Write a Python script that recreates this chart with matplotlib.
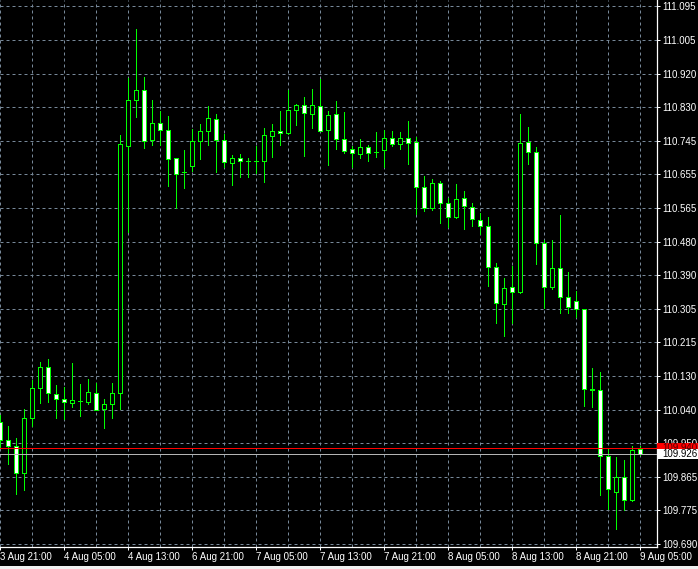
import numpy as np
import matplotlib
matplotlib.use('Agg')
import matplotlib.pyplot as plt
import matplotlib.transforms as mtransforms
from matplotlib.patches import Rectangle

# H1 bars (open, high, low, close)
opens = [110.009, 109.961, 109.945, 109.875, 110.018, 110.097, 110.152, 110.081, 110.068, 110.059,
         110.064, 110.061, 110.084, 110.043, 110.055, 110.084, 110.731, 110.849, 110.876, 110.745,
         110.789, 110.771, 110.698, 110.661, 110.678, 110.742, 110.768, 110.800, 110.745, 110.686,
         110.698, 110.690, 110.690, 110.690, 110.755, 110.768, 110.763, 110.823, 110.836, 110.814,
         110.834, 110.773, 110.813, 110.747, 110.721, 110.710, 110.727, 110.715, 110.720, 110.750,
         110.736, 110.750, 110.740, 110.622, 110.569, 110.632, 110.580, 110.545, 110.593, 110.570,
         110.536, 110.520, 110.413, 110.318, 110.361, 110.348, 110.740, 110.713, 110.476, 110.361,
         110.410, 110.335, 110.324, 110.303, 110.092, 110.091, 109.920, 109.825, 109.864, 109.804,
         109.937]
highs = [110.027, 109.998, 109.967, 110.043, 110.118, 110.165, 110.173, 110.105, 110.101, 110.163,
         110.108, 110.121, 110.111, 110.069, 110.111, 110.759, 110.907, 111.036, 110.910, 110.850,
         110.821, 110.808, 110.699, 110.719, 110.774, 110.787, 110.834, 110.814, 110.761, 110.706,
         110.709, 110.698, 110.730, 110.777, 110.787, 110.821, 110.876, 110.840, 110.857, 110.879,
         110.905, 110.821, 110.848, 110.819, 110.730, 110.748, 110.733, 110.767, 110.772, 110.769,
         110.767, 110.795, 110.753, 110.652, 110.643, 110.638, 110.593, 110.631, 110.612, 110.580,
         110.556, 110.544, 110.423, 110.384, 110.416, 110.814, 110.780, 110.727, 110.484, 110.484,
         110.550, 110.400, 110.352, 110.304, 110.149, 110.138, 109.938, 109.917, 109.909, 109.946,
         109.947]
lows = [109.943, 109.899, 109.820, 109.831, 109.998, 110.059, 110.062, 110.020, 110.016, 110.049,
        110.025, 110.056, 110.040, 109.994, 110.020, 110.043, 110.504, 110.807, 110.725, 110.733,
        110.733, 110.626, 110.569, 110.621, 110.665, 110.697, 110.733, 110.663, 110.676, 110.628,
        110.650, 110.650, 110.660, 110.637, 110.702, 110.733, 110.761, 110.785, 110.705, 110.778,
        110.768, 110.680, 110.723, 110.712, 110.676, 110.699, 110.692, 110.701, 110.676, 110.730,
        110.723, 110.684, 110.552, 110.560, 110.563, 110.529, 110.519, 110.543, 110.514, 110.522,
        110.499, 110.365, 110.268, 110.233, 110.267, 110.346, 110.684, 110.422, 110.306, 110.355,
        110.293, 110.293, 110.284, 110.050, 110.049, 109.818, 109.781, 109.728, 109.778, 109.801,
        109.923]
closes = [109.962, 109.947, 109.875, 110.018, 110.097, 110.152, 110.084, 110.068, 110.060, 110.065,
          110.063, 110.086, 110.041, 110.055, 110.084, 110.734, 110.849, 110.876, 110.742, 110.789,
          110.771, 110.695, 110.658, 110.661, 110.742, 110.768, 110.802, 110.745, 110.687, 110.698,
          110.690, 110.690, 110.690, 110.758, 110.768, 110.763, 110.823, 110.836, 110.815, 110.836,
          110.770, 110.810, 110.749, 110.718, 110.712, 110.727, 110.712, 110.715, 110.750, 110.736,
          110.750, 110.739, 110.624, 110.569, 110.632, 110.580, 110.545, 110.591, 110.572, 110.540,
          110.522, 110.413, 110.320, 110.358, 110.348, 110.737, 110.713, 110.476, 110.361, 110.410,
          110.335, 110.308, 110.303, 110.096, 110.096, 109.920, 109.833, 109.864, 109.804, 109.935,
          109.926]

time_labels = ['3 Aug 21:00', '4 Aug 05:00', '4 Aug 13:00', '6 Aug 21:00', '7 Aug 05:00',
               '7 Aug 13:00', '7 Aug 21:00', '8 Aug 05:00', '8 Aug 13:00', '8 Aug 21:00',
               '9 Aug 05:00']
price_labels = ['111.095', '111.005', '110.920', '110.830', '110.745', '110.655', '110.565',
                '110.480', '110.390', '110.305', '110.215', '110.130', '110.040', '109.950',
                '109.865', '109.775', '109.690']
ask = 109.940
bid = 109.926

green = '#00ff00'
grid_col = '#778899'
font = 'Liberation Sans'
fs = 7

W, H = 698, 569
fig = plt.figure(figsize=(W / 100, H / 100), dpi=100, facecolor='black')
ax = fig.add_axes([0, 22.5 / H, 656.5 / W, 546.5 / H], facecolor='black')

n = len(opens)
xs = np.arange(n)
bw = 0.6
lw = 0.5

for i in range(n):
    o, h, l, c = opens[i], highs[i], lows[i], closes[i]
    ax.vlines(xs[i], l, h, color=green, lw=lw, antialiased=False, zorder=3)
    if abs(c - o) < 0.0015:
        ax.hlines(c, xs[i] - bw / 2, xs[i] + bw / 2, color=green, lw=lw,
                  antialiased=False, zorder=4)
    else:
        fc = 'black' if c > o else 'white'
        ax.add_patch(Rectangle((xs[i] - bw / 2, min(o, c)), bw, abs(c - o),
                               facecolor=fc, edgecolor=green, lw=lw,
                               antialiased=False, zorder=4))

ax.set_xlim(0, 656.5 / 8)
ax.set_ylim(111.1115 - 546.5 * 0.0026135, 111.1115)

ytick_pos = np.linspace(float(price_labels[0]), float(price_labels[-1]), len(price_labels))
ax.set_yticks(ytick_pos)
ax.set_yticklabels(price_labels)
ax.yaxis.tick_right()

ax.set_xticks(np.arange(0, n, 8))
ax.set_xticklabels(time_labels, ha='left')
ax.set_xticks(np.arange(0, n, 4), minor=True)

ax.tick_params(axis='both', which='major', colors='white', length=2.2, width=0.72,
               direction='out', pad=2, labelsize=fs)
ax.tick_params(axis='x', which='minor', length=0)
for lab in ax.get_xticklabels() + ax.get_yticklabels():
    lab.set_fontfamily(font)
    lab.set_color('white')

ax.grid(True, which='both', color=grid_col, lw=0.72, linestyle=(0, (3, 3)))
ax.set_axisbelow(True)
for s in ['top', 'left']:
    ax.spines[s].set_visible(False)
for s in ['right', 'bottom']:
    ax.spines[s].set_color('white')
    ax.spines[s].set_linewidth(0.9)

# ask / bid lines
ax.axhline(ask, color='red', lw=lw, antialiased=False, zorder=5)
ax.axhline(bid, color='#b4b4b4', lw=lw, antialiased=False, zorder=5)

# price labels on the right scale
tr = mtransforms.blended_transform_factory(fig.transFigure, ax.transData)
box_h = 10 * 0.0026135
x0 = 656.5 / W
fig.add_artist(Rectangle((x0, ask - box_h / 2), 1 - x0, box_h, transform=tr,
                         facecolor='red', edgecolor='none', zorder=5))
fig.text(662 / W, ask, '109.940', transform=tr, color='#500000', fontsize=fs,
         family=font, va='center', ha='left', zorder=6)
fig.add_artist(Rectangle((x0, bid - box_h / 2), 1 - x0, box_h, transform=tr,
                         facecolor='white', edgecolor='none', zorder=7))
fig.text(662 / W, bid, '109.926', transform=tr, color='black', fontsize=fs,
         family=font, va='center', ha='left', zorder=8)

# window border strip at the bottom
fig.add_artist(Rectangle((0, 0), 1, 3 / H, transform=fig.transFigure,
                         facecolor='#f0f0f0', edgecolor='none'))

fig.savefig('out.png', dpi=100, facecolor='black')
